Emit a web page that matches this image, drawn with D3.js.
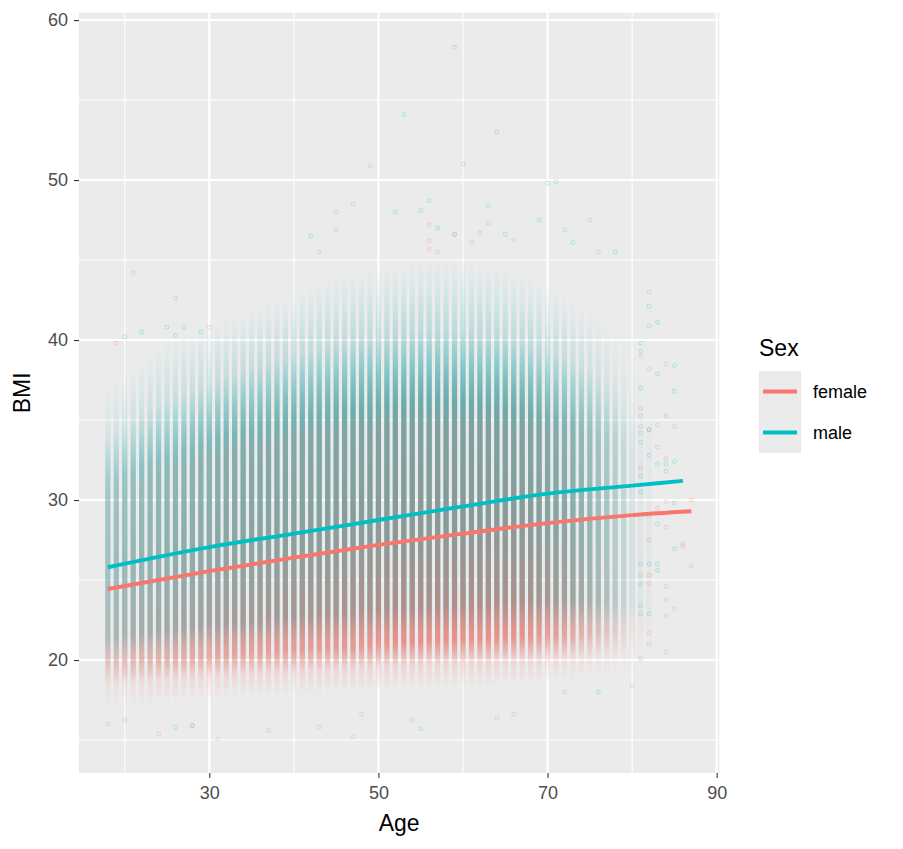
<!DOCTYPE html>
<html><head><meta charset="utf-8">
<script src="https://cdn.jsdelivr.net/npm/d3@7"></script>
<style>
body{margin:0;background:#fff;}
text{font-family:"Liberation Sans",Arial,Helvetica,sans-serif;}
</style>
</head><body>
<svg id="chart" width="903" height="849"></svg>
<script>
// ---------- data ----------
const ages = [18,19,20,21,22,23,24,25,26,27, 28,29,30,31,32,33,34,35,36,37,
  38,39,40,41,42,43,44,45,46,47, 48,49,50,51,52,53,54,55,56,57,
  58,59,60,61,62,63,64,65,66,67, 68,69,70,71,72,73,74,75,76,77,
  78,79,80,81,82,83,84,85,86,87];
// relative number of people per age (column intensity)
const ageWeight = [.45,.5,.55,.58,.6,.62,.64,.66,.68,.7, .72,.74,.76,.78,.8,.8,.82,.82,.84,.85,
  .86,.87,.88,.89,.9,.9,.91,.92,.93,.94, .95,.96,.97,.98,1,1,1,1,1,1,
  1,1,1,1,1,1,1,.99,.98,.97, .95,.92,.88,.84,.78,.72,.65,.58,.5,.42,
  .32,.22,.14,.06,.04,0,0,0,0,0];
// male BMI spread per age: lowest sparse, dense low, dense high, highest sparse
const maleLo = [18.6,18.6,18.7,18.7,18.8,18.8,18.9,18.9,19.0,19.0, 19.0,19.1,19.1,19.1,19.2,19.2,19.2,19.3,19.3,19.3,
  19.4,19.4,19.4,19.5,19.5,19.5,19.5,19.6,19.6,19.6, 19.6,19.7,19.7,19.7,19.7,19.8,19.8,19.8,19.8,19.9,
  19.9,19.9,19.9,20.0,20.0,20.0,20.0,20.0,20.1,20.1, 20.1,20.1,20.1,20.2,20.2,20.2,20.2,20.2,20.3,20.3,
  20.3,20.3,20.4,20.4,20.4,20.5,20.5,20.5,20.5,20.5];
const maleCoreLo = [21.5,21.5,21.6,21.6,21.7,21.8,21.8,21.9,21.9,22.0, 22.1,22.1,22.2,22.2,22.3,22.4,22.4,22.5,22.5,22.6,
  22.6,22.7,22.7,22.8,22.8,22.9,22.9,23.0,23.0,23.0, 23.1,23.1,23.2,23.2,23.2,23.3,23.3,23.3,23.4,23.4,
  23.4,23.4,23.5,23.5,23.5,23.5,23.6,23.6,23.6,23.6, 23.6,23.7,23.7,23.7,23.7,23.7,23.7,23.7,23.6,23.6,
  23.6,23.6,23.6,23.6,23.5,23.5,23.5,23.5,23.5,23.5];
const maleCoreHi = [31.0,31.2,31.5,31.7,32.0,32.2,32.4,32.6,32.8,33.0, 33.2,33.4,33.6,33.8,34.0,34.1,34.3,34.4,34.6,34.7,
  34.8,34.9,35.0,35.1,35.2,35.3,35.4,35.5,35.5,35.6, 35.7,35.7,35.8,35.8,35.9,35.9,36.0,36.0,36.0,36.0,
  36.0,36.0,36.0,35.9,35.9,35.8,35.8,35.7,35.6,35.5, 35.4,35.3,35.2,35.0,34.9,34.7,34.5,34.3,34.1,33.9,
  33.6,33.3,33.0,32.8,32.6,32.4,32.2,32.0,31.8,31.6];
const maleHi = [37.0,37.5,38.0,38.4,38.8,39.2,39.6,40.0,40.2,40.4, 40.6,40.8,41.0,41.2,41.4,41.6,41.8,42.0,42.2,42.4,
  42.6,42.8,43.0,43.2,43.4,43.6,43.8,44.0,44.1,44.2, 44.3,44.4,44.5,44.6,44.7,44.8,44.9,45.0,45.0,45.0,
  45.0,45.0,45.0,44.9,44.8,44.7,44.6,44.5,44.3,44.1, 43.9,43.7,43.5,43.2,42.9,42.6,42.3,42.0,41.6,41.2,
  40.8,40.4,40.0,39.5,39.0,38.5,38.0,37.5,37.0,36.5];
// female BMI spread per age
const femaleLo = [17.0,17.0,17.1,17.1,17.2,17.2,17.3,17.3,17.3,17.4, 17.4,17.4,17.5,17.5,17.5,17.6,17.6,17.6,17.7,17.7,
  17.7,17.7,17.8,17.8,17.8,17.8,17.9,17.9,17.9,17.9, 18.0,18.0,18.0,18.0,18.1,18.1,18.1,18.1,18.2,18.2,
  18.2,18.2,18.3,18.3,18.3,18.3,18.4,18.4,18.4,18.5, 18.5,18.5,18.6,18.6,18.7,18.7,18.8,18.8,18.9,18.9,
  19.0,19.0,19.1,19.1,19.2,19.2,19.3,19.3,19.4,19.4];
const femaleCoreLo = [19.8,19.8,19.9,19.9,20.0,20.0,20.0,20.1,20.1,20.2, 20.2,20.3,20.3,20.4,20.4,20.4,20.5,20.5,20.5,20.6,
  20.6,20.7,20.7,20.7,20.8,20.8,20.8,20.9,20.9,20.9, 21.0,21.0,21.1,21.1,21.1,21.2,21.2,21.2,21.3,21.3,
  21.3,21.3,21.4,21.4,21.4,21.4,21.5,21.5,21.5,21.5, 21.5,21.6,21.6,21.6,21.6,21.6,21.7,21.7,21.7,21.7,
  21.7,21.7,21.7,21.8,21.8,21.8,21.8,21.8,21.9,21.9];
const femaleCoreHi = [30.0,30.2,30.4,30.6,30.8,31.0,31.2,31.4,31.6,31.8, 32.0,32.2,32.4,32.6,32.8,32.9,33.0,33.2,33.3,33.4,
  33.5,33.6,33.7,33.8,33.9,34.0,34.0,34.1,34.1,34.2, 34.2,34.3,34.3,34.4,34.4,34.5,34.5,34.5,34.6,34.6,
  34.6,34.6,34.6,34.6,34.6,34.5,34.5,34.5,34.4,34.4, 34.3,34.3,34.2,34.1,34.0,33.8,33.7,33.5,33.3,33.1,
  32.9,32.7,32.5,32.3,32.1,31.9,31.7,31.5,31.3,31.1];
const femaleHi = [36.0,36.4,36.8,37.2,37.6,38.0,38.3,38.6,38.9,39.2, 39.5,39.8,40.0,40.2,40.4,40.6,40.8,41.0,41.2,41.4,
  41.6,41.8,42.0,42.1,42.2,42.3,42.4,42.5,42.6,42.7, 42.8,42.9,43.0,43.0,43.0,43.0,43.0,43.0,43.0,43.0,
  43.0,43.0,42.9,42.8,42.7,42.6,42.5,42.4,42.3,42.2, 42.1,42.0,41.8,41.6,41.3,41.0,40.7,40.4,40.1,39.8,
  39.4,39.0,38.5,38.0,37.5,37.0,36.5,36.0,35.5,35.0];

// individual points outside the dense cloud
const outAge = [59,53,64,60,70,71,45,45,42,52,55,56,57,59,63,69,72,73,78,65,62,26,22,20,25,27,26,29,
  49,47,43,56,63,66,75,76,56,56,57,61,21,19,30,59,
  18,28,28,31,24,26,20,37,47,48,43,55,54,66,64,72,76,80,
  81,81,81,81,81,81,81,81,81,81,81,81,81, 81,81,81,81,81,
  82,82,82,82,82,82,82, 82,82,82,82,82,82,82,82,
  83,83,83,83,83,83, 83,83,83,
  84,84,84, 84,84,84,84,84,84,84,84,
  85,85,85,85,85, 85,85, 86,86, 87,87];
const outBmi = [58.3,54.1,53.0,51.0,49.8,49.9,48.0,46.9,46.5,48.0,48.1,48.7,47.0,46.6,48.4,47.5,46.9,46.1,45.5,46.6,46.7,42.6,40.5,40.2,40.8,40.8,40.3,40.5,
  50.9,48.5,45.5,47.2,47.3,46.25,47.5,45.5,46.2,45.7,45.5,46.1,44.2,39.8,40.8,46.6,
  16.0,15.9,15.9,15.06,15.4,15.8,16.25,15.6,15.2,16.6,15.8,15.7,16.25,16.6,16.4,18.0,18.0,18.4,
  39.8,39.3,37.0,35.25,34.2,33.6,26.0,24.75,23.4,22.9,20.1,31.5,30.5, 39.0,35.7,32.0,25.3,34.6,
  42.1,40.9,32.8,26.0,22.9,29.0,34.4, 43.0,38.2,25.3,24.8,21.7,20.96,27.5,34.4,
  41.1,37.9,32.25,26.0,25.6,28.5, 34.7,33.3,29.5,
  35.25,32.25,31.8, 38.5,32.6,29.9,28.3,24.6,23.75,22.75,20.5,
  38.4,36.8,32.4,29.8,26.96, 34.6,23.2, 27.25,27.1, 25.9,30.0];
const outSex = ["male","male","male","male","male","male","male","male","male","male","male","male","male","male","male","male","male","male","male","male","male","male","male","male","male","male","male","male",
  "female","female","female","female","female","female","female","female","female","female","female","female","female","female","female","female",
  "female","male","female","female","female","male","male","female","female","female","female","male","female","female","female","female","male","female",
  "male","male","male","male","male","male","male","male","male","male","male","male","male", "female","female","female","female","female",
  "male","male","male","male","male","male","male", "female","female","female","female","female","female","female","female",
  "male","male","male","male","male","male", "female","female","female",
  "male","male","male", "female","female","female","female","female","female","female","female",
  "male","male","male","male","male", "female","female", "male","female", "female","female"];

// smoothed trend
const fitAgeMale = [18,30,40,50,60,70,80,86];
const fitBmiMale = [25.8,27.06,27.9,28.75,29.6,30.4,30.9,31.2];
const fitAgeFemale = [18,30,40,50,60,70,80,87];
const fitBmiFemale = [24.44,25.56,26.4,27.2,27.9,28.56,29.06,29.3];

const sexes = ["female","male"];
const sexColors = ["#F8766D","#00BFC4"];
const xTicks = [30,50,70,90];
const xMinor = [20,40,60,80];
const yTicks = [20,30,40,50,60];
const yMinor = [15,25,35,45,55];

// ---------- layout ----------
const svg = d3.select("#chart");
const panel = {left:79, right:719.3, top:12.7, bottom:773};
const x = d3.scaleLinear().domain([14.59, 90.31]).range([panel.left, panel.right]);
const y = d3.scaleLinear().domain([12.94, 60.46]).range([panel.bottom, panel.top]);
const color = d3.scaleOrdinal().domain(sexes).range(sexColors);

svg.append("rect").attr("x",panel.left).attr("y",panel.top)
  .attr("width",panel.right-panel.left).attr("height",panel.bottom-panel.top).attr("fill","#EBEBEB");

const grid = svg.append("g");
grid.selectAll(".vmin").data(xMinor).join("line")
  .attr("x1",d=>x(d)).attr("x2",d=>x(d)).attr("y1",panel.top).attr("y2",panel.bottom)
  .attr("stroke","#fff").attr("stroke-width",1.07);
grid.selectAll(".hmin").data(yMinor).join("line")
  .attr("y1",d=>y(d)).attr("y2",d=>y(d)).attr("x1",panel.left).attr("x2",panel.right)
  .attr("stroke","#fff").attr("stroke-width",1.07);
grid.selectAll(".vmaj").data(xTicks).join("line")
  .attr("x1",d=>x(d)).attr("x2",d=>x(d)).attr("y1",panel.top).attr("y2",panel.bottom)
  .attr("stroke","#fff").attr("stroke-width",2.13);
grid.selectAll(".hmaj").data(yTicks).join("line")
  .attr("y1",d=>y(d)).attr("y2",d=>y(d)).attr("x1",panel.left).attr("x2",panel.right)
  .attr("stroke","#fff").attr("stroke-width",2.13);

// ---------- point cloud as per-age density columns ----------
// opacity profile: [lower core, middle, upper core] (female points sit lower, male higher)
const defs = svg.append("defs");
const clouds = {
  male: {lo:maleLo, cLo:maleCoreLo, cHi:maleCoreHi, hi:maleHi, prof:[0.9,0.95,0.85]},
  female: {lo:femaleLo, cLo:femaleCoreLo, cHi:femaleCoreHi, hi:femaleHi, prof:[0.75,0.55,0.45]}
};
const colW = 5.2;
const cloudG = svg.append("g");
["male","female"].forEach(sex => {
  const c = clouds[sex];
  const rows = ages.map((a,i)=>({age:a, i, lo:c.lo[i], cLo:c.cLo[i], cHi:c.cHi[i], hi:c.hi[i], w:ageWeight[i]}))
    .filter(d=>d.w>0);
  rows.forEach(d=>{
    const span = d.hi - d.lo;
    const oHi = (d.hi - d.cHi)/span, oLo = (d.hi - d.cLo)/span, oMid = (oHi+oLo)/2;
    const [pLo,pMid,pHi] = c.prof.map(p=>p*d.w);
    const g = defs.append("linearGradient").attr("id",`g-${sex}-${d.age}`)
      .attr("x1",0).attr("y1",0).attr("x2",0).attr("y2",1);
    const stops = [[0,0],[oHi*0.5,0.26*pHi],[oHi,pHi],[oMid,pMid],[oLo,pLo],[oLo+(1-oLo)*0.5,0.26*pLo],[1,0]];
    stops.forEach(s=>g.append("stop").attr("offset",s[0]).attr("stop-color",color(sex)).attr("stop-opacity",s[1]));
  });
  cloudG.append("g").selectAll("rect").data(rows).join("rect")
    .attr("x",d=>x(d.age)-colW/2).attr("width",colW)
    .attr("y",d=>y(d.hi)).attr("height",d=>y(d.lo)-y(d.hi))
    .attr("fill",d=>`url(#g-${sex}-${d.age})`);
});

const pts = outAge.map((a,i)=>({age:a, bmi:outBmi[i], sex:outSex[i]}));
svg.append("g").selectAll("circle").data(pts).join("circle")
  .attr("cx",d=>x(d.age)).attr("cy",d=>y(d.bmi)).attr("r",1.9)
  .attr("fill","none").attr("stroke",d=>color(d.sex)).attr("stroke-width",1.1).attr("stroke-opacity",0.24);

// ---------- smooth lines ----------
const line = d3.line().x(d=>x(d[0])).y(d=>y(d[1])).curve(d3.curveMonotoneX);
svg.append("path").datum(fitAgeFemale.map((a,i)=>[a,fitBmiFemale[i]]))
  .attr("d",line).attr("fill","none").attr("stroke",color("female")).attr("stroke-width",3.9);
svg.append("path").datum(fitAgeMale.map((a,i)=>[a,fitBmiMale[i]]))
  .attr("d",line).attr("fill","none").attr("stroke",color("male")).attr("stroke-width",3.9);

// ---------- axes ----------
const xAxis = svg.append("g").attr("transform",`translate(0,${panel.bottom})`)
  .call(d3.axisBottom(x).tickValues(xTicks).tickSize(5).tickPadding(8));
const yAxis = svg.append("g").attr("transform",`translate(${panel.left},0)`)
  .call(d3.axisLeft(y).tickValues(yTicks).tickSize(5).tickPadding(6));
[xAxis,yAxis].forEach(ax=>{
  ax.select(".domain").remove();
  ax.selectAll(".tick line").attr("stroke","#333333").attr("stroke-width",1.07);
  ax.selectAll(".tick text").attr("fill","#4D4D4D").style("font-size","18px")
    .style("font-family","'Liberation Sans',Arial,sans-serif");
});

svg.append("text").attr("x",(panel.left+panel.right)/2).attr("y",831)
  .attr("text-anchor","middle").style("font-size","23px").attr("fill","#000").text("Age");
svg.append("text").attr("transform",`translate(30,${(panel.top+panel.bottom)/2}) rotate(-90)`)
  .attr("text-anchor","middle").style("font-size","23px").attr("fill","#000").text("BMI");

// ---------- legend ----------
const leg = svg.append("g");
leg.append("text").attr("x",759).attr("y",356).style("font-size","23px").attr("fill","#000").text("Sex");
const keyY = d3.scaleBand().domain(sexes).range([371,453]);
leg.selectAll(".key").data(sexes).join("rect")
  .attr("x",759).attr("y",d=>keyY(d)).attr("width",42).attr("height",keyY.bandwidth()).attr("fill","#EBEBEB");
leg.selectAll(".kl").data(sexes).join("line")
  .attr("x1",763).attr("x2",797)
  .attr("y1",d=>keyY(d)+keyY.bandwidth()/2).attr("y2",d=>keyY(d)+keyY.bandwidth()/2)
  .attr("stroke",d=>color(d)).attr("stroke-width",3.9);
leg.selectAll(".lt").data(sexes).join("text")
  .attr("x",813).attr("y",d=>keyY(d)+keyY.bandwidth()/2).attr("dy","0.35em")
  .style("font-size","18px").attr("fill","#000").text(d=>d);
</script>
</body></html>
